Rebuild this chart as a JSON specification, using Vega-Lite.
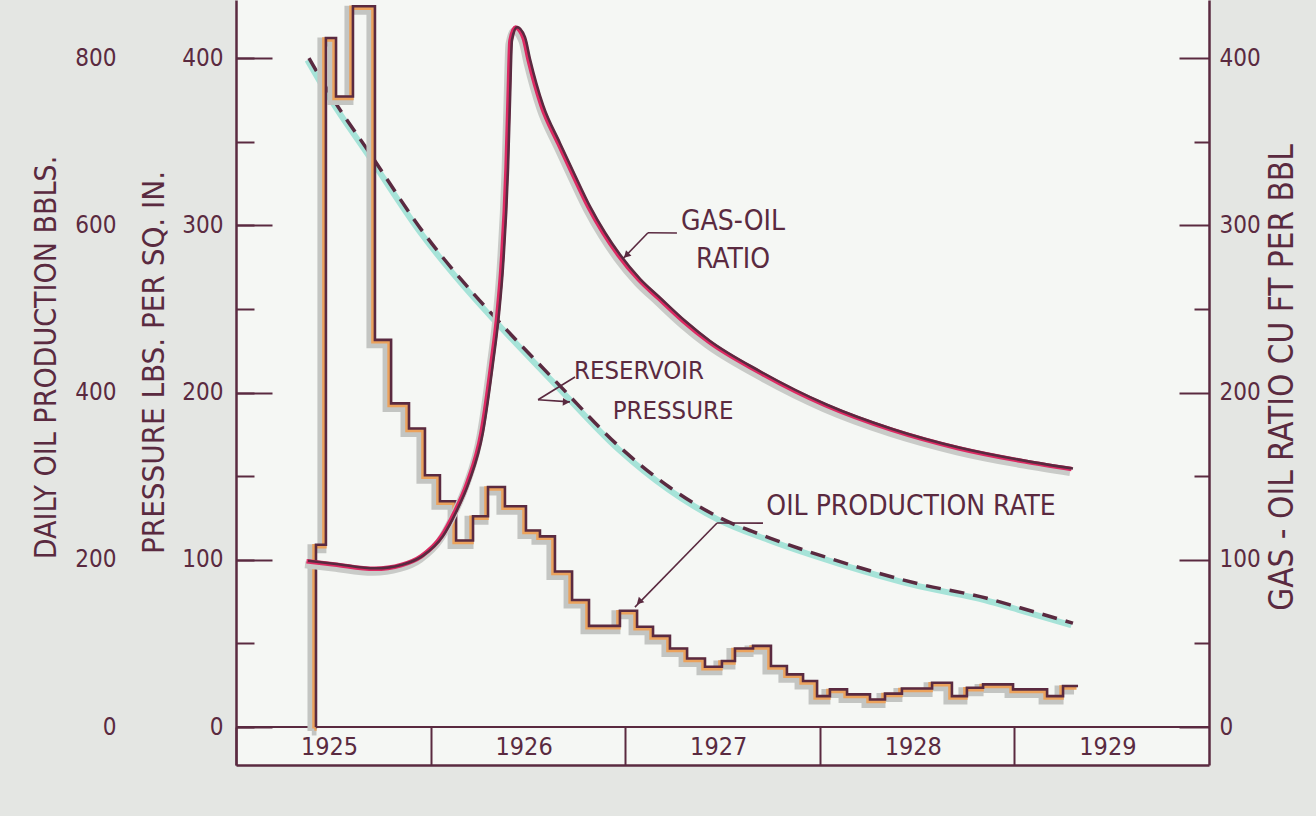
{
  "$schema": "https://vega.github.io/schema/vega-lite/v6.json",
  "width": 973,
  "height": 765,
  "autosize": "none",
  "padding": {"left": 236, "top": 0, "right": 107, "bottom": 51},
  "background": "#e4e6e3",
  "config": {
    "font": "DejaVu Sans Condensed, DejaVu Sans, sans-serif",
    "view": {"fill": "#f5f7f4", "stroke": null},
    "axis": {"grid": false, "labelColor": "#5a2a40", "titleColor": "#5a2a40", "domainColor": "#5a2a40", "tickColor": "#5a2a40", "titleFontWeight": "normal", "labelFontWeight": "normal"}
  },
  "datasets": {
    "oil": [
      {"t": 1925.410, "bbl": 0}, {"t": 1925.411, "bbl": 218}, {"t": 1925.462, "bbl": 824}, {"t": 1925.514, "bbl": 754},
      {"t": 1925.601, "bbl": 862}, {"t": 1925.714, "bbl": 463}, {"t": 1925.797, "bbl": 387}, {"t": 1925.889, "bbl": 357},
      {"t": 1925.971, "bbl": 301}, {"t": 1926.048, "bbl": 270}, {"t": 1926.131, "bbl": 223}, {"t": 1926.218, "bbl": 252},
      {"t": 1926.295, "bbl": 287}, {"t": 1926.382, "bbl": 264}, {"t": 1926.490, "bbl": 235}, {"t": 1926.562, "bbl": 228},
      {"t": 1926.639, "bbl": 186}, {"t": 1926.727, "bbl": 152}, {"t": 1926.814, "bbl": 121}, {"t": 1926.973, "bbl": 139},
      {"t": 1927.061, "bbl": 120}, {"t": 1927.143, "bbl": 109}, {"t": 1927.230, "bbl": 94}, {"t": 1927.318, "bbl": 82},
      {"t": 1927.410, "bbl": 72}, {"t": 1927.497, "bbl": 79}, {"t": 1927.564, "bbl": 94}, {"t": 1927.657, "bbl": 97},
      {"t": 1927.749, "bbl": 73}, {"t": 1927.831, "bbl": 63}, {"t": 1927.914, "bbl": 55}, {"t": 1927.986, "bbl": 37},
      {"t": 1928.052, "bbl": 45}, {"t": 1928.140, "bbl": 39}, {"t": 1928.258, "bbl": 33}, {"t": 1928.335, "bbl": 40},
      {"t": 1928.422, "bbl": 46}, {"t": 1928.577, "bbl": 53}, {"t": 1928.679, "bbl": 37}, {"t": 1928.756, "bbl": 47},
      {"t": 1928.839, "bbl": 51}, {"t": 1928.993, "bbl": 45}, {"t": 1929.168, "bbl": 37}, {"t": 1929.250, "bbl": 49},
      {"t": 1929.327, "bbl": 49}
    ],
    "pressure": [
      {"t": 1925.375, "p": 400}, {"t": 1925.498, "p": 375.7}, {"t": 1925.683, "p": 343.9}, {"t": 1925.961, "p": 296},
      {"t": 1926.233, "p": 257.5}, {"t": 1926.341, "p": 243.7}, {"t": 1926.665, "p": 204}, {"t": 1926.973, "p": 167.3},
      {"t": 1927.230, "p": 143.2}, {"t": 1927.487, "p": 125.1}, {"t": 1927.744, "p": 113}, {"t": 1928.104, "p": 98.9},
      {"t": 1928.515, "p": 85.4}, {"t": 1928.859, "p": 77}, {"t": 1929.029, "p": 71.3}, {"t": 1929.301, "p": 62.1}
    ],
    "gor": [
      {"t": 1925.370, "g": 99.4}, {"t": 1925.514, "g": 97.5}, {"t": 1925.719, "g": 94.9}, {"t": 1925.858, "g": 97.2},
      {"t": 1925.961, "g": 102.5}, {"t": 1926.064, "g": 114.3}, {"t": 1926.131, "g": 128.6}, {"t": 1926.197, "g": 146.4},
      {"t": 1926.269, "g": 176.2}, {"t": 1926.321, "g": 218}, {"t": 1926.352, "g": 247.8}, {"t": 1926.372, "g": 275.3},
      {"t": 1926.398, "g": 334.9}, {"t": 1926.408, "g": 374.9}, {"t": 1926.418, "g": 410.7}, {"t": 1926.444, "g": 418.5},
      {"t": 1926.485, "g": 412.5}, {"t": 1926.511, "g": 399.3}, {"t": 1926.578, "g": 371.8}, {"t": 1926.665, "g": 349.1},
      {"t": 1926.742, "g": 329.9}, {"t": 1926.819, "g": 311.3}, {"t": 1926.896, "g": 295.7}, {"t": 1926.973, "g": 282.5},
      {"t": 1927.076, "g": 268.0}, {"t": 1927.179, "g": 256.7}, {"t": 1927.307, "g": 242.9}, {"t": 1927.436, "g": 230.8},
      {"t": 1927.693, "g": 212.7}, {"t": 1928.037, "g": 192.7}, {"t": 1928.376, "g": 178.1}, {"t": 1928.720, "g": 167.0},
      {"t": 1929.065, "g": 159}, {"t": 1929.301, "g": 154.6}
    ],
    "zero": [{"t": 1925, "t2": 1930, "p": 0}],
    "leaders": [
      {"t": 1927.266, "p": 295.4, "t2": 1927.117, "p2": 295.5},
      {"t": 1927.117, "p": 295.5, "t2": 1926.989, "p2": 280.1},
      {"t": 1926.552, "p": 195.7, "t2": 1926.742, "p2": 209.3},
      {"t": 1926.552, "p": 195.7, "t2": 1926.716, "p2": 194.4},
      {"t": 1927.708, "p": 121.9, "t2": 1927.472, "p2": 122.0},
      {"t": 1927.472, "p": 122.0, "t2": 1927.050, "p2": 71.7}
    ],
    "notes": [
      {"t": 1927.554, "p": 301.9, "label": "GAS-OIL"},
      {"t": 1927.554, "p": 279.2, "label": "RATIO"},
      {"t": 1928.469, "p": 131.4, "label": "OIL PRODUCTION RATE"}
    ],
    "notes2": [
      {"t": 1927.071, "p": 213.1, "label": "RESERVOIR"},
      {"t": 1927.246, "p": 189.2, "label": "PRESSURE"}
    ]
  },
  "encoding": {
    "x": {"field": "t", "type": "quantitative", "scale": {"domain": [1925, 1930], "nice": false, "zero": false},
      "axis": {"values": [1925, 1926, 1927, 1928, 1929], "format": "d", "labelOffset": 93, "labelFlush": false, "labelOverlap": false, "tickSize": -38, "labelPadding": 19, "labelBaseline": "middle", "title": null, "labelFontSize": 25, "domainWidth": 2.5, "tickWidth": 2}}
  },
  "resolve": {"scale": {"y": "independent"}},
  "layer": [
    {
      "encoding": {
        "y": {"field": "p", "type": "quantitative", "scale": {"domain": [-22.7, 434.7], "nice": false, "zero": false},
          "axis": {"orient": "left", "values": [0, 100, 200, 300, 400], "tickSize": -36, "labelPadding": 49, "labelFontSize": 24, "labelBaseline": "middle", "title": "PRESSURE LBS. PER SQ. IN.", "titleX": -82, "titleY": 362, "titleAngle": 270, "titleAlign": "center", "titleBaseline": "middle", "titleFontSize": 31, "domainWidth": 2.5, "tickWidth": 2}}
      },
      "layer": [
        {
          "data": {"name": "zero"},
          "mark": {"type": "rule", "color": "#5a2a40", "strokeWidth": 2},
          "encoding": {"x2": {"field": "t2"}}
        },
        {
          "data": {"name": "pressure"},
          "mark": {"type": "line", "color": "#a6e3d8", "strokeWidth": 6, "interpolate": "monotone", "xOffset": -1.5, "yOffset": 2}
        },
        {
          "data": {"name": "pressure"},
          "mark": {"type": "line", "color": "#5a2a40", "strokeWidth": 3.5, "strokeDash": [15, 9], "interpolate": "monotone"}
        },
        {
          "data": {"name": "leaders"},
          "mark": {"type": "rule", "color": "#5a2a40", "strokeWidth": 1.6},
          "encoding": {"x2": {"field": "t2"}, "y2": {"field": "p2"}}
        },
        {
          "data": {"values": [{"t": 1927.01, "p": 282.5}, {"t": 1927.076, "p": 75.3}]},
          "mark": {"type": "point", "shape": "triangle", "filled": true, "color": "#5a2a40", "size": 60, "angle": 225, "opacity": 1}
        },
        {
          "data": {"values": [{"t": 1926.691, "p": 194.4}]},
          "mark": {"type": "point", "shape": "triangle", "filled": true, "color": "#5a2a40", "size": 60, "angle": 93, "opacity": 1}
        },
        {
          "data": {"name": "notes"},
          "mark": {"type": "text", "color": "#5a2a40", "fontSize": 28, "align": "center", "baseline": "middle"},
          "encoding": {"text": {"field": "label"}}
        },
        {
          "data": {"name": "notes2"},
          "mark": {"type": "text", "color": "#5a2a40", "fontSize": 25.5, "align": "center", "baseline": "middle"},
          "encoding": {"text": {"field": "label"}}
        }
      ]
    },
    {
      "data": {"name": "oil"},
      "encoding": {
        "y": {"field": "bbl", "type": "quantitative", "scale": {"domain": [-45.4, 869.4], "nice": false, "zero": false},
          "axis": {"orient": "left", "values": [0, 100, 200, 300, 400, 500, 600, 700, 800], "tickSize": -18, "domain": false, "labelPadding": 138, "labelExpr": "datum.value % 200 === 0 ? datum.label : ''", "labelFontSize": 24, "labelBaseline": "middle", "title": "DAILY OIL PRODUCTION BBLS.", "titleX": -190, "titleY": 357, "titleAngle": 270, "titleAlign": "center", "titleBaseline": "middle", "titleFontSize": 30, "tickWidth": 2}}
      },
      "layer": [
        {"mark": {"type": "line", "interpolate": "step-after", "color": "#c3c5c2", "strokeWidth": 9, "xOffset": -4, "yOffset": 4}},
        {"mark": {"type": "line", "interpolate": "step-after", "color": "#eba25c", "strokeWidth": 4.5, "xOffset": -1.5, "yOffset": 1.5}},
        {"mark": {"type": "line", "interpolate": "step-after", "color": "#5a2a40", "strokeWidth": 2.6}}
      ]
    },
    {
      "data": {"name": "gor"},
      "encoding": {
        "y": {"field": "g", "type": "quantitative", "scale": {"domain": [-22.7, 434.7], "nice": false, "zero": false},
          "axis": {"orient": "right", "values": [0, 100, 200, 300, 400], "tickSize": -30, "labelPadding": 40, "labelAlign": "left", "labelBaseline": "middle", "labelFontSize": 24, "title": "GAS - OIL RATIO CU FT PER BBL", "titleX": 73, "titleY": 377, "titleAngle": 270, "titleAlign": "center", "titleBaseline": "middle", "titleFontSize": 33, "domainWidth": 2.5, "tickWidth": 2}}
      },
      "layer": [
        {"mark": {"type": "line", "interpolate": "monotone", "color": "#c9cbc8", "strokeWidth": 7, "xOffset": -3, "yOffset": 4}},
        {"mark": {"type": "line", "interpolate": "monotone", "color": "#dd2a63", "strokeWidth": 4.5, "xOffset": -1.5, "yOffset": 0.5}},
        {"mark": {"type": "line", "interpolate": "monotone", "color": "#5a2a40", "strokeWidth": 2.6}}
      ]
    },
    {
      "data": {"name": "gor"},
      "mark": {"type": "point", "opacity": 0},
      "encoding": {
        "y": {"field": "g", "type": "quantitative", "scale": {"domain": [-22.7, 434.7], "nice": false, "zero": false},
          "axis": {"orient": "right", "values": [50, 150, 250, 350], "tickSize": -15, "domain": false, "labels": false, "title": null, "tickWidth": 2}}
      }
    }
  ]
}
